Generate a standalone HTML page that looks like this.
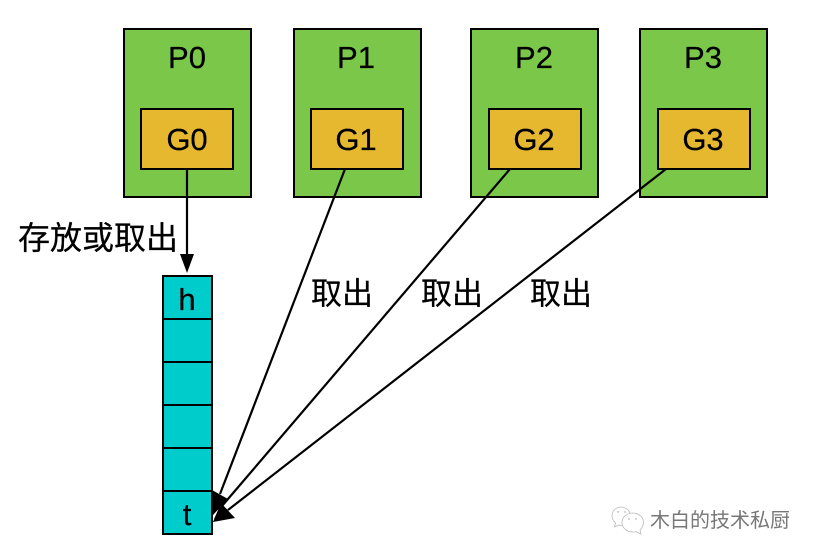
<!DOCTYPE html>
<html><head><meta charset="utf-8"><style>
html,body{margin:0;padding:0;background:#fff}
svg{display:block}
text{font-family:"Liberation Sans","Noto Sans CJK SC",sans-serif;fill:#000;text-anchor:middle;stroke:#000;stroke-width:.25}
</style></head><body>
<svg width="816" height="556" viewBox="0 0 816 556" xmlns="http://www.w3.org/2000/svg">
<g fill="#7AC74A" stroke="#000" stroke-width="2">
<rect x="124" y="29" width="127" height="168"/>
<rect x="294" y="29" width="127" height="168"/>
<rect x="471" y="29" width="127" height="168"/>
<rect x="640" y="29" width="127" height="168"/>
</g>
<g fill="#E5B82F" stroke="#000" stroke-width="2">
<rect x="141" y="109" width="92" height="60"/>
<rect x="311" y="109" width="92" height="60"/>
<rect x="489" y="109" width="92" height="60"/>
<rect x="658" y="109" width="92" height="60"/>
</g>
<g fill="#00CCCC" stroke="#000" stroke-width="2">
<rect x="163" y="276" width="49" height="43"/>
<rect x="163" y="319" width="49" height="43"/>
<rect x="163" y="362" width="49" height="43"/>
<rect x="163" y="405" width="49" height="43"/>
<rect x="163" y="448" width="49" height="43"/>
<rect x="163" y="491" width="49" height="43"/>
</g>
<g font-size="31">
<text x="187" y="68">P0</text><text x="356" y="68">P1</text><text x="534" y="68">P2</text><text x="703" y="68">P3</text>
<text x="187" y="150">G0</text><text x="356" y="150">G1</text><text x="534" y="150">G2</text><text x="703" y="150">G3</text>
<text x="187" y="310">h</text><text x="187" y="525">t</text>
</g>
<g stroke="#000" stroke-width="2.2" fill="none">
<line x1="187" y1="169" x2="187" y2="258"/>
<line x1="345" y1="169" x2="220" y2="494"/>
<line x1="510" y1="169" x2="222" y2="506"/>
<line x1="666" y1="169" x2="228" y2="510"/>
</g>
<g fill="#000">
<polygon points="187,273 180,254 194,254"/>
<polygon points="213,515 212,490 228,499"/>
<polygon points="214,519 221,505 228,510"/>
<polygon points="213,522 221,503 235,518"/>
</g>
<g font-size="32">
<text x="98" y="249">存放或取出</text>
</g>
<g font-size="31">
<text x="342" y="304.500">取出</text>
<text x="452" y="304.500">取出</text>
<text x="561" y="304.500">取出</text>
</g>
<g fill="#fff" stroke="#bbb" stroke-width="0.8">
<path d="M621 507c-5 0-9 4-9 9 0 3 1.500 5 3.500 7l-1 4 4-2c1 .4 2 .5 3 .5 5 0 9-4 9-9.500s-5-9-10-9z"/>
<path d="M633 513c-6 0-11 4-11 9.500s5 9.500 11 9.500c1 0 2 0 3-.4l5 2.400-1-4c2-2 3.500-4.500 3.500-7.500 0-5.500-5-9.500-10.500-9.500z"/>
</g>
<g fill="#999"><circle cx="618" cy="512" r=".7"/><circle cx="625" cy="512" r=".7"/><circle cx="629" cy="519" r=".7"/><circle cx="636" cy="519" r=".7"/></g>
<text x="720" y="527" font-size="20" style="fill:#777;stroke:none">木白的技术私厨</text>
</svg>
</body></html>
